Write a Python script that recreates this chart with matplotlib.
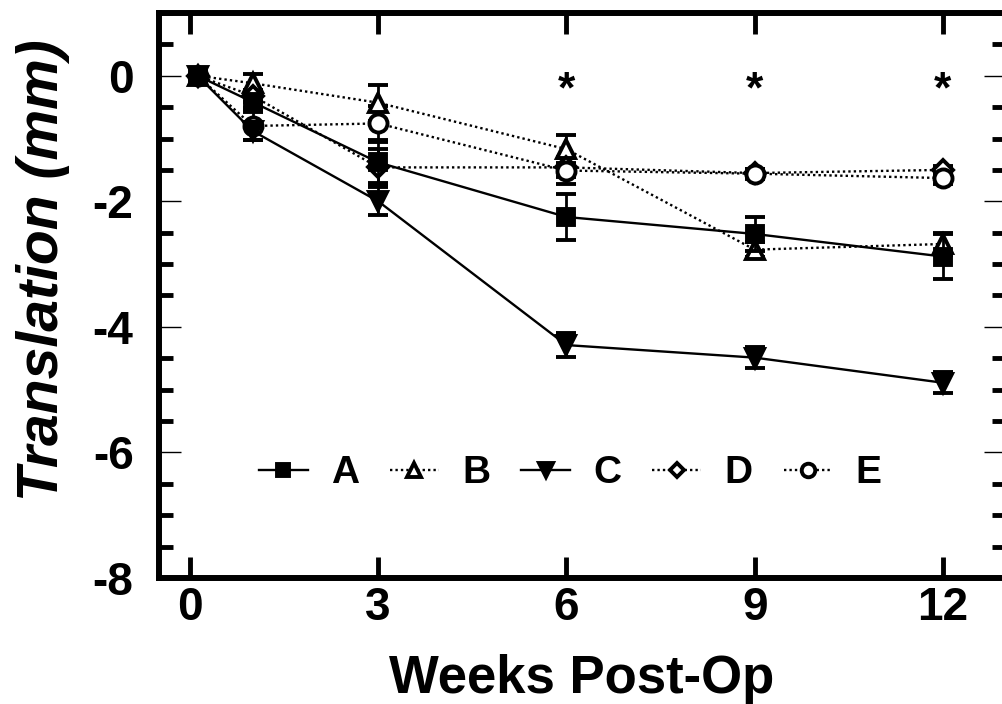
import numpy as np
import matplotlib
matplotlib.use("Agg")
import matplotlib.pyplot as plt
from matplotlib.ticker import MultipleLocator

plt.rcParams['font.family'] = ['Liberation Sans', 'DejaVu Sans']
plt.rcParams['font.weight'] = 'bold'
plt.rcParams['axes.unicode_minus'] = False

# semanas (o primeiro ponto aparece um pouco deslocado no original)
semanas = [0.12, 1, 3, 6, 9, 12]

A = [0, -0.42, -1.38, -2.25, -2.52, -2.88]
A_err = [0, 0.10, 0.33, 0.37, 0.27, 0.36]
B = [0, -0.12, -0.43, -1.17, -2.77, -2.68]
B_err = [0, 0.15, 0.29, 0.22, 0.12, 0.17]
C = [0, -0.88, -2.0, -4.29, -4.49, -4.89]
C_err = [0, 0.15, 0.22, 0.19, 0.17, 0.17]
D = [0, -0.32, -1.46, -1.46, -1.55, -1.5]
D_err = [0, 0.10, 0.30, 0.15, 0.07, 0.07]
E = [0, -0.80, -0.76, -1.51, -1.56, -1.63]
E_err = [0, 0.22, 0.27, 0.22, 0.08, 0.10]

grupos = ['A', 'B', 'C', 'D', 'E']
estrelas_x = [6, 9, 12]

fig = plt.figure(figsize=(10.02, 7.04), dpi=100)
ax = fig.add_axes([0.1583, 0.179, 0.8453, 0.8026])

pontilhado = (0, (1, 1.3))
estilos = [
    dict(marker='s', ls='-', mfc='black', ms=12, zorder=4),
    dict(marker='^', ls=pontilhado, mfc='white', ms=13.5, zorder=3),
    dict(marker='v', ls='-', mfc='black', ms=13.5, zorder=4),
    dict(marker='D', ls=pontilhado, mfc='white', ms=10, zorder=3),
    dict(marker='o', ls=pontilhado, mfc='white', ms=13, zorder=3),
]
series = [(A, A_err), (B, B_err), (C, C_err), (D, D_err), (E, E_err)]

handles = []
for (y, e), st, nome in zip(series, estilos, grupos):
    cont = ax.errorbar(semanas, y, yerr=e, color='black', lw=1.7, mew=2.8,
                       mec='black', elinewidth=2, capsize=7, capthick=2.4,
                       label=nome, **st)
    handles.append(cont[0])

for xs in estrelas_x:
    ax.text(xs, -0.24, '*', ha='center', va='center', fontsize=32,
            fontweight='bold')

ax.set_xlim(-0.5, 13)
ax.set_ylim(-8, 1)
ax.set_xticks([0, 3, 6, 9, 12])
ax.set_yticks([0, -2, -4, -6, -8])
ax.yaxis.set_minor_locator(MultipleLocator(0.5))

for s in ax.spines.values():
    s.set_linewidth(4.3)
ax.tick_params(axis='both', which='both', direction='in', top=True, right=True,
               width=3.5, labelsize=33)
ax.tick_params(axis='y', which='major', length=16, pad=18)
ax.tick_params(axis='y', which='minor', length=10)
ax.tick_params(axis='x', which='major', length=15, pad=6)

# o tique em 0 no eixo y e fino no original
for t in ax.yaxis.get_major_ticks():
    if t.get_loc() == 0:
        t.tick1line.set_markeredgewidth(1)
        t.tick2line.set_markeredgewidth(1)

ax.set_xlabel('Weeks Post-Op', fontsize=38, fontweight='bold', labelpad=17)
ax.set_ylabel('Translation (mm)', fontsize=41, fontweight='bold', style='italic')
ax.yaxis.set_label_coords(-0.105, 0.545)

leg = ax.legend(handles=handles, labels=grupos, ncol=5, frameon=False,
                loc='center', bbox_to_anchor=(6.06, -6.33),
                bbox_transform=ax.transData, fontsize=28, handlelength=1.25,
                handletextpad=0.6, columnspacing=0.8, markerscale=0.75,
                borderpad=0)

fig.savefig('out.png', dpi=100)
